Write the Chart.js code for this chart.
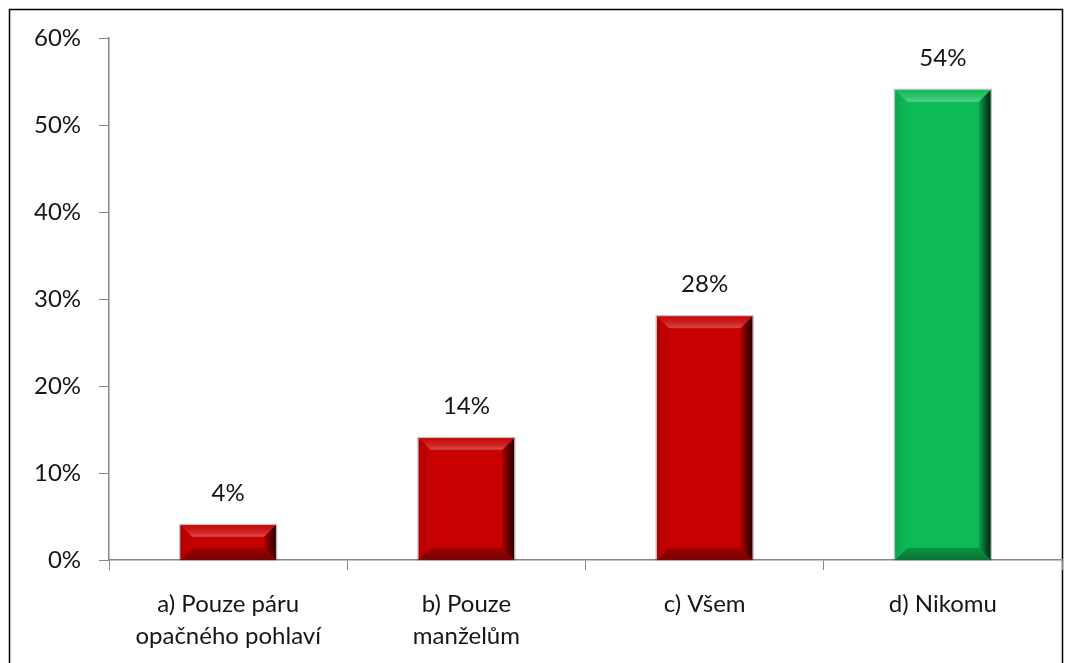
<!DOCTYPE html>
<html>
<head>
<meta charset="utf-8">
<script src="https://cdn.jsdelivr.net/npm/chart.js@4"></script>
<style>
  html, body { margin: 0; padding: 0; background: #fff; }
  #wrap { width: 1069px; height: 663px; position: relative; }
</style>
</head>
<body>
<div id="wrap"><canvas id="barChart"></canvas></div>
<script>
// data
var categories = [
  ['a) Pouze páru', 'opačného pohlaví'],
  ['b) Pouze', 'manželům'],
  'c) Všem',
  'd) Nikomu'
];
var values = [4, 14, 28, 54];
var barColors = ['#c80000', '#c80000', '#c80000', '#0dbb55'];
var yTicks = [0, 10, 20, 30, 40, 50, 60];

var fontName = 'Lato, "Open Sans", sans-serif';
var textColor = '#161616';

// outer frame of the picture
var framePlugin = {
  id: 'frame',
  beforeDraw: function (chart) {
    var ctx = chart.ctx;
    ctx.save();
    ctx.fillStyle = '#fff';
    ctx.fillRect(0, 0, chart.width, chart.height);
    ctx.strokeStyle = '#000';
    ctx.lineWidth = 1.5;
    ctx.strokeRect(9.5, 9.5, chart.width - 16, chart.height);
    ctx.restore();
  }
};

function shade(hex, f) {
  var n = parseInt(hex.slice(1), 16);
  var r = (n >> 16) & 255, g = (n >> 8) & 255, b = n & 255;
  if (f >= 0) {
    r = r + (255 - r) * f; g = g + (255 - g) * f; b = b + (255 - b) * f;
  } else {
    r = r * (1 + f); g = g * (1 + f); b = b * (1 + f);
  }
  return 'rgb(' + Math.round(r) + ',' + Math.round(g) + ',' + Math.round(b) + ')';
}

// bevel look + value labels
var bevelPlugin = {
  id: 'bevel',
  afterDatasetsDraw: function (chart) {
    var ctx = chart.ctx;
    var meta = chart.getDatasetMeta(0);
    meta.data.forEach(function (bar, i) {
      var c = barColors[i];
      var l = bar.x - bar.width / 2, r = bar.x + bar.width / 2;
      var t = bar.y, bt = bar.base;
      var b = Math.min(12, (bt - t) / 2);
      ctx.save();
      // soft outline
      ctx.strokeStyle = 'rgba(0,0,0,0.25)';
      ctx.lineWidth = 1.5;
      ctx.strokeRect(l - 0.75, t - 0.75, r - l + 1.5, bt - t + 0.75);
      // top
      var g = ctx.createLinearGradient(0, t, 0, t + b);
      g.addColorStop(0, shade(c, 0.02));
      g.addColorStop(0.6, shade(c, 0.15));
      g.addColorStop(0.9, shade(c, 0.28));
      g.addColorStop(1, shade(c, 0.1));
      ctx.fillStyle = g;
      ctx.beginPath();
      ctx.moveTo(l, t); ctx.lineTo(r, t); ctx.lineTo(r - b, t + b); ctx.lineTo(l + b, t + b);
      ctx.closePath(); ctx.fill();
      // bottom
      g = ctx.createLinearGradient(0, bt - b, 0, bt);
      g.addColorStop(0, shade(c, -0.2));
      g.addColorStop(1, shade(c, -0.4));
      ctx.fillStyle = g;
      ctx.beginPath();
      ctx.moveTo(l, bt); ctx.lineTo(r, bt); ctx.lineTo(r - b, bt - b); ctx.lineTo(l + b, bt - b);
      ctx.closePath(); ctx.fill();
      // right
      g = ctx.createLinearGradient(r - b, 0, r, 0);
      g.addColorStop(0, shade(c, -0.1));
      g.addColorStop(0.6, shade(c, -0.55));
      g.addColorStop(1, shade(c, -0.8));
      ctx.fillStyle = g;
      ctx.beginPath();
      ctx.moveTo(r, t); ctx.lineTo(r, bt); ctx.lineTo(r - b, bt - b); ctx.lineTo(r - b, t + b);
      ctx.closePath(); ctx.fill();
      // left
      g = ctx.createLinearGradient(l, 0, l + b, 0);
      g.addColorStop(0, shade(c, -0.12));
      g.addColorStop(1, c);
      ctx.fillStyle = g;
      ctx.beginPath();
      ctx.moveTo(l, t); ctx.lineTo(l, bt); ctx.lineTo(l + b, bt - b); ctx.lineTo(l + b, t + b);
      ctx.closePath(); ctx.fill();
      // value label
      ctx.fillStyle = textColor;
      ctx.font = '24px ' + fontName;
      ctx.textAlign = 'center';
      ctx.textBaseline = 'middle';
      ctx.fillText(values[i] + '%', bar.x, t - 32);
      ctx.restore();
    });
  }
};

var barConfig = {
  type: 'bar',
  data: {
    labels: categories,
    datasets: [{
      data: values,
      backgroundColor: barColors,
      borderWidth: 0,
      barPercentage: 0.4,
      categoryPercentage: 1
    }]
  },
  options: {
    responsive: true,
    maintainAspectRatio: false,
    animation: false,
    layout: { padding: { left: 16, right: 7, top: 38, bottom: -7 } },
    plugins: {
      legend: { display: false },
      tooltip: { enabled: false }
    },
    scales: {
      x: {
        offset: true,
        grid: {
          offset: true,
          drawOnChartArea: false,
          drawTicks: true,
          tickLength: 10,
          color: '#868686'
        },
        border: { color: '#868686', width: 1.5 },
        ticks: {
          color: textColor,
          font: { family: fontName, size: 24, lineHeight: 1.33 },
          padding: 18,
          maxRotation: 0
        }
      },
      y: {
        min: 0,
        max: 60,
        afterBuildTicks: function (axis) {
          axis.ticks = yTicks.map(function (v) { return { value: v }; });
        },
        grid: {
          drawOnChartArea: false,
          drawTicks: true,
          tickLength: 10,
          color: '#868686'
        },
        border: { color: '#868686', width: 1.5 },
        ticks: {
          color: textColor,
          font: { family: fontName, size: 24 },
          padding: 18,
          callback: function (v) { return v + '%'; }
        }
      }
    }
  },
  plugins: [framePlugin, bevelPlugin]
};

var barChart = new Chart(document.getElementById('barChart'), barConfig);
</script>
</body>
</html>
